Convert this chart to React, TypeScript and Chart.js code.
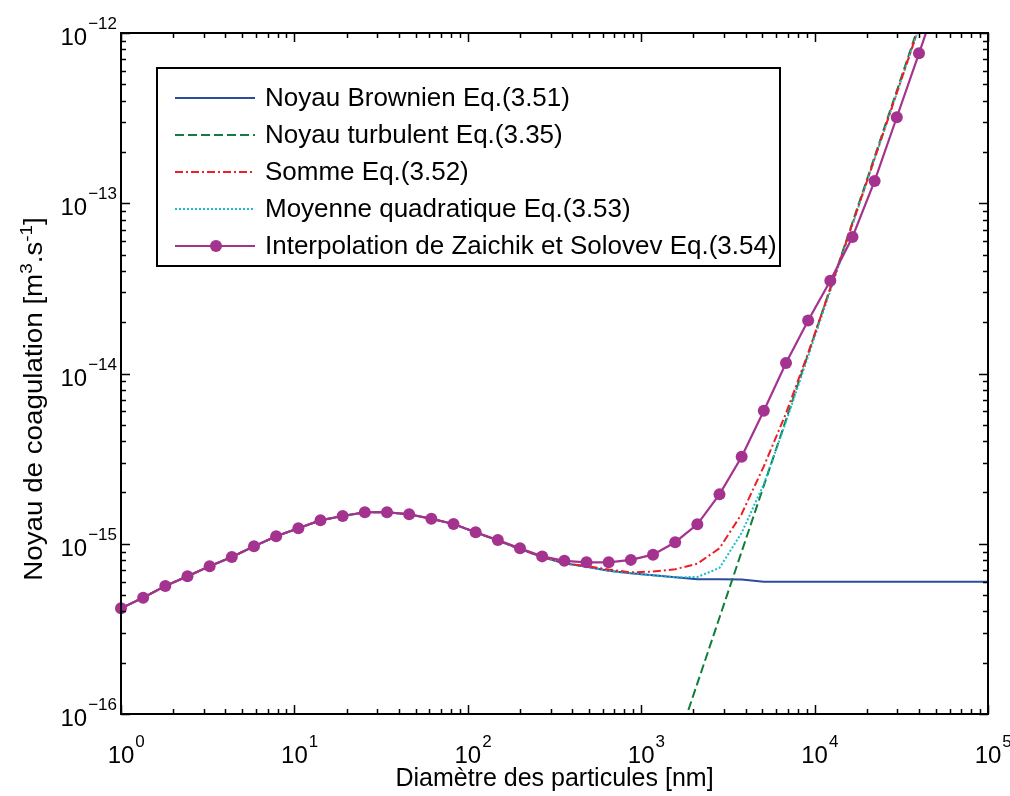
import React, { useEffect, useRef } from 'react';
import { Chart, registerables } from 'chart.js';

Chart.register(...registerables);

const FONT = '"Liberation Sans", Arial, Helvetica, sans-serif';

// ---- data ----
const diameters = [1, 1.342, 1.801, 2.418, 3.245, 4.357, 5.848, 7.85, 10.54, 14.14, 18.98, 25.48, 34.2, 45.9, 61.61, 82.7, 111, 149, 200, 268.5, 360.4, 483.7, 649.3, 871.5, 1170, 1570, 2107, 2828, 3796, 5095, 6840, 9180, 12320, 16540, 22200, 29790, 40000, 53700];

const interpolation = [4.18e-16, 4.82e-16, 5.65e-16, 6.44e-16, 7.38e-16, 8.36e-16, 9.66e-16, 1.107e-15, 1.233e-15, 1.374e-15, 1.455e-15, 1.531e-15, 1.531e-15, 1.489e-15, 1.403e-15, 1.306e-15, 1.167e-15, 1.052e-15, 9.4e-16, 8.43e-16, 7.94e-16, 7.78e-16, 7.78e-16, 8.04e-16, 8.63e-16, 1.021e-15, 1.3e-15, 1.95e-15, 3.24e-15, 6.05e-15, 1.153e-14, 2.05e-14, 3.51e-14, 6.34e-14, 1.352e-13, 3.2e-13, 7.6e-13, 1.82e-12];

const brownianDiameters = [1, 1.342, 1.801, 2.418, 3.245, 4.357, 5.848, 7.85, 10.54, 14.14, 18.98, 25.48, 34.2, 45.9, 61.61, 82.7, 111, 149, 200, 268.5, 360.4, 483.7, 649.3, 871.5, 1170, 1570, 2107, 2828, 3796, 5095, 6840, 9180, 12320, 16540, 22200, 29790, 40000, 53700, 100000];
const brownian = [4.18e-16, 4.82e-16, 5.65e-16, 6.44e-16, 7.38e-16, 8.36e-16, 9.66e-16, 1.107e-15, 1.233e-15, 1.374e-15, 1.455e-15, 1.531e-15, 1.531e-15, 1.489e-15, 1.403e-15, 1.306e-15, 1.167e-15, 1.045e-15, 9.31e-16, 8.36e-16, 7.67e-16, 7.33e-16, 6.95e-16, 6.7e-16, 6.53e-16, 6.35e-16, 6.18e-16, 6.18e-16, 6.17e-16, 5.98e-16, 5.98e-16, 5.98e-16, 5.98e-16, 5.98e-16, 5.98e-16, 5.98e-16, 5.98e-16, 5.98e-16, 5.98e-16];

const turbulentDiameters = [1500, 2000, 5000, 10000, 20000, 50000, 100000];
const turbulent = [5.42e-17, 1.29e-16, 2.07e-15, 1.69e-14, 1.37e-13, 2.2e-12, 1.79e-11];

const somme = [4.18e-16, 4.82e-16, 5.65e-16, 6.44e-16, 7.38e-16, 8.36e-16, 9.66e-16, 1.107e-15, 1.233e-15, 1.374e-15, 1.455e-15, 1.531e-15, 1.531e-15, 1.489e-15, 1.403e-15, 1.306e-15, 1.167e-15, 1.045e-15, 9.31e-16, 8.36e-16, 7.67e-16, 7.4e-16, 7.06e-16, 6.79e-16, 6.87e-16, 7.08e-16, 7.64e-16, 9.4e-16, 1.496e-15, 2.85e-15, 5.83e-15, 1.318e-14, 3.16e-14, 7.59e-14, 1.832e-13, 4.45e-13, 1.079e-12, 2.63e-12];

const quadratique = [4.18e-16, 4.82e-16, 5.65e-16, 6.44e-16, 7.38e-16, 8.36e-16, 9.66e-16, 1.107e-15, 1.233e-15, 1.374e-15, 1.455e-15, 1.531e-15, 1.531e-15, 1.489e-15, 1.403e-15, 1.306e-15, 1.167e-15, 1.045e-15, 9.31e-16, 8.36e-16, 7.67e-16, 7.33e-16, 6.95e-16, 6.7e-16, 6.53e-16, 6.35e-16, 6.38e-16, 7.21e-16, 1.159e-15, 2.24e-15, 5.21e-15, 1.262e-14, 3.06e-14, 7.48e-14, 1.82e-13, 4.43e-13, 1.076e-12, 2.63e-12];

const seriesLabels = [
  'Noyau Brownien Eq.(3.51)',
  'Noyau turbulent Eq.(3.35)',
  'Somme Eq.(3.52)',
  'Moyenne quadratique Eq.(3.53)',
  'Interpolation de Zaichik et Solovev Eq.(3.54)',
];

const xTickExponents = ['0', '1', '2', '3', '4', '5'];
const yTickExponents = ['\u221216', '\u221215', '\u221214', '\u221213', '\u221212'];
const xTitle = 'Diamètre des particules [nm]';
const yTitleParts: [string, boolean][] = [
  ['Noyau de coagulation [m', false],
  ['3', true],
  ['.s', false],
  ['-1', true],
  [']', false],
];

// ---- styles ----
const BLUE = '#2B4C9C';
const GREEN = '#0F7E3C';
const RED = '#EE1D26';
const CYAN = '#1EBBCC';
const PURPLE = '#A3338F';

function pts(xs: number[], ys: number[]) {
  return xs.map((x, i) => ({ x, y: ys[i] }));
}

const matlabAxes = {
  id: 'matlabAxes',
  afterDatasetsDraw(chart: any) {
    const ctx: CanvasRenderingContext2D = chart.ctx;
    const a = chart.chartArea;
    const xs = chart.scales.x;
    const ys = chart.scales.y;
    ctx.save();
    ctx.strokeStyle = '#000';
    ctx.lineCap = 'butt';
    ctx.setLineDash([]);

    // ticks
    ctx.lineWidth = 1.5;
    const majorLen = 9;
    const minorLen = 5;
    ctx.beginPath();
    for (let d = 0; d <= 5; d++) {
      for (let m = 1; m <= 9; m++) {
        if (d === 5 && m > 1) break;
        const v = m * Math.pow(10, d);
        const px = Math.round(xs.getPixelForValue(v)) + 0.5;
        const len = m === 1 ? majorLen : minorLen;
        ctx.moveTo(px, a.bottom);
        ctx.lineTo(px, a.bottom - len);
        ctx.moveTo(px, a.top);
        ctx.lineTo(px, a.top + len);
      }
    }
    for (let d = -16; d <= -12; d++) {
      for (let m = 1; m <= 9; m++) {
        if (d === -12 && m > 1) break;
        const v = m * Math.pow(10, d);
        const py = Math.round(ys.getPixelForValue(v)) + 0.5;
        const len = m === 1 ? majorLen : minorLen;
        ctx.moveTo(a.left, py);
        ctx.lineTo(a.left + len, py);
        ctx.moveTo(a.right, py);
        ctx.lineTo(a.right - len, py);
      }
    }
    ctx.stroke();

    // frame
    ctx.lineWidth = 2;
    ctx.strokeRect(a.left, a.top, a.right - a.left, a.bottom - a.top);

    // tick labels
    ctx.fillStyle = '#000';
    const baseFont = `24px ${FONT}`;
    const supFont = `17px ${FONT}`;
    ctx.textBaseline = 'alphabetic';
    ctx.textAlign = 'left';
    xTickExponents.forEach((e, i) => {
      const px = xs.getPixelForValue(Math.pow(10, i));
      ctx.font = baseFont;
      const w = ctx.measureText('10').width;
      ctx.fillText('10', px - w / 2, 763);
      ctx.font = supFont;
      ctx.fillText(e, px + w / 2 + 1, 747);
    });
    yTickExponents.forEach((e, i) => {
      const py = ys.getPixelForValue(Math.pow(10, -16 + i));
      ctx.font = supFont;
      const sw = ctx.measureText(e).width;
      ctx.font = baseFont;
      const bw = ctx.measureText('10').width;
      const right = a.left - 4;
      ctx.fillText('10', right - sw - 1 - bw, py + 12);
      ctx.font = supFont;
      ctx.fillText(e, right - sw, py - 4);
    });

    // x title
    ctx.font = `25px ${FONT}`;
    ctx.textAlign = 'center';
    ctx.textBaseline = 'middle';
    ctx.fillText(xTitle, (a.left + a.right) / 2, 779);

    // y title (rotated, with superscripts)
    ctx.save();
    ctx.translate(33, 399);
    ctx.rotate(-Math.PI / 2);
    ctx.scale(1.11, 1);
    ctx.textAlign = 'left';
    ctx.textBaseline = 'alphabetic';
    const tFont = `25px ${FONT}`;
    const tSup = `17px ${FONT}`;
    let total = 0;
    for (const [s, sup] of yTitleParts) {
      ctx.font = sup ? tSup : tFont;
      total += ctx.measureText(s).width;
    }
    let cx = -total / 2;
    for (const [s, sup] of yTitleParts) {
      ctx.font = sup ? tSup : tFont;
      ctx.fillText(s, cx, sup ? -1 : 9);
      cx += ctx.measureText(s).width;
    }
    ctx.restore();

    // legend box
    const bx = 157, by = 68, bw2 = 623, bh = 198;
    ctx.fillStyle = '#fff';
    ctx.fillRect(bx, by, bw2, bh);
    ctx.lineWidth = 2;
    ctx.strokeStyle = '#000';
    ctx.strokeRect(bx, by, bw2, bh);
    const order = [4, 3, 1, 2, 0]; // dataset index for each legend row
    const rowY0 = 98;
    const rowStep = 37;
    order.forEach((di, row) => {
      const ds = chart.data.datasets[di];
      const y = rowY0 + row * rowStep;
      ctx.save();
      ctx.strokeStyle = ds.borderColor;
      ctx.lineWidth = 2;
      ctx.setLineDash(ds.borderDash || []);
      ctx.beginPath();
      ctx.moveTo(175, y);
      ctx.lineTo(255, y);
      ctx.stroke();
      if (ds.pointRadius > 0) {
        ctx.fillStyle = ds.pointBackgroundColor;
        ctx.beginPath();
        ctx.arc(216, y, ds.pointRadius, 0, Math.PI * 2);
        ctx.fill();
      }
      ctx.restore();
      ctx.fillStyle = '#000';
      ctx.font = `26px ${FONT}`;
      ctx.textAlign = 'left';
      ctx.textBaseline = 'middle';
      ctx.fillText(ds.label, 265, y + 1);
    });

    ctx.restore();
  },
};

export default function App() {
  const ref = useRef<HTMLCanvasElement>(null);
  useEffect(() => {
    document.body.style.margin = '0';
    const chart = new Chart(ref.current as HTMLCanvasElement, {
      type: 'line',
      data: {
        datasets: [
          {
            label: seriesLabels[4],
            data: pts(diameters, interpolation),
            borderColor: PURPLE,
            backgroundColor: PURPLE,
            borderWidth: 2.2,
            pointRadius: 6,
            pointBackgroundColor: PURPLE,
            pointBorderColor: PURPLE,
            pointBorderWidth: 0,
            clip: { left: 8, top: 0, right: 0, bottom: 0 },
          } as any,
          {
            label: seriesLabels[2],
            data: pts(diameters, somme),
            borderColor: RED,
            borderWidth: 2,
            borderDash: [8, 3, 2, 3],
            pointRadius: 0,
            clip: 0,
          },
          {
            label: seriesLabels[3],
            data: pts(diameters, quadratique),
            borderColor: CYAN,
            borderWidth: 2,
            borderDash: [2, 2],
            pointRadius: 0,
            clip: 0,
          },
          {
            label: seriesLabels[1],
            data: pts(turbulentDiameters, turbulent),
            borderColor: GREEN,
            borderWidth: 2,
            borderDash: [9, 4],
            pointRadius: 0,
            clip: 0,
          },
          {
            label: seriesLabels[0],
            data: pts(brownianDiameters, brownian),
            borderColor: BLUE,
            borderWidth: 2,
            pointRadius: 0,
            clip: 0,
          },
        ],
      },
      options: {
        responsive: false,
        animation: false,
        events: [],
        layout: { padding: { left: 121, right: 22, top: 33, bottom: 82 } },
        plugins: { legend: { display: false }, tooltip: { enabled: false } },
        elements: { line: { tension: 0 } },
        scales: {
          x: { type: 'logarithmic', min: 1, max: 100000, display: false },
          y: { type: 'logarithmic', min: 1e-16, max: 1e-12, display: false },
        },
      },
      plugins: [matlabAxes],
    });
    return () => chart.destroy();
  }, []);
  return <canvas ref={ref} width={1010} height={796} style={{ display: 'block' }} />;
}
